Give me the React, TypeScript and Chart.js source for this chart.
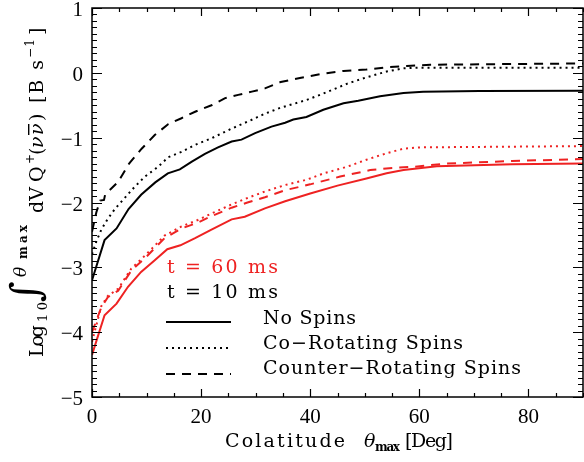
import React, { useEffect, useRef } from "react";
import { Chart, registerables } from "chart.js";

Chart.register(...registerables);

const RED = "#ee2222";
const BLACK = "#000000";

const xTickLabels = [0, 20, 40, 60, 80];
const yTickLabels = [-5, -4, -3, -2, -1, 0, 1];

// t = 10 ms, no spins
const noSpin10X = [0, 2.3, 4.5, 6.7, 9, 11.6, 13.9, 16.1, 18.3, 20.7, 23.1, 25.6, 27.4, 29.9, 32.9, 35.4, 36.9, 39.3, 42.4, 46.1, 48.8, 52.8, 57.1, 60.7, 71, 90];
const noSpin10Y = [-3.2, -2.58, -2.4, -2.1, -1.88, -1.69, -1.55, -1.49, -1.37, -1.25, -1.15, -1.06, -1.03, -0.93, -0.83, -0.77, -0.72, -0.68, -0.57, -0.47, -0.43, -0.36, -0.31, -0.29, -0.28, -0.275];

// t = 10 ms, co-rotating spins
const coRot10X = [0, 0.8, 1.7, 2.9, 4.2, 6, 7.8, 9.7, 12.1, 14, 16.4, 18.9, 21.9, 25.6, 28.6, 31.7, 34.5, 39.3, 42.4, 46.7, 50.3, 54, 57.1, 60, 90];
const coRot10Y = [-2.8, -2.6, -2.42, -2.25, -2.1, -1.93, -1.76, -1.6, -1.45, -1.3, -1.22, -1.11, -1.01, -0.86, -0.75, -0.63, -0.54, -0.42, -0.32, -0.17, -0.07, 0.02, 0.07, 0.08, 0.08];

// t = 10 ms, counter-rotating spins
const ctrRot10X = [0, 0.8, 1.5, 2.2, 2.4, 4.8, 6.8, 9.1, 11.5, 14, 16.4, 18.9, 21.9, 24.4, 26.8, 29.3, 31.7, 34.6, 38.1, 41.8, 46.1, 50.3, 54, 57.7, 62, 90];
const ctrRot10Y = [-2.45, -2.15, -1.97, -1.96, -1.88, -1.68, -1.4, -1.17, -0.96, -0.79, -0.7, -0.6, -0.5, -0.39, -0.34, -0.29, -0.24, -0.14, -0.08, -0.02, 0.03, 0.05, 0.085, 0.105, 0.125, 0.145];

// t = 60 ms, no spins
const noSpin60X = [0, 2.3, 4.5, 6.6, 9, 11.5, 13.8, 16.2, 18.9, 21.9, 25.6, 28, 31.7, 35.4, 40, 45, 50.3, 54, 57.1, 63.2, 77, 90];
const noSpin60Y = [-4.35, -3.74, -3.56, -3.3, -3.07, -2.89, -2.72, -2.66, -2.55, -2.42, -2.26, -2.22, -2.09, -1.98, -1.86, -1.74, -1.63, -1.55, -1.5, -1.44, -1.41, -1.4];

// t = 60 ms, co-rotating spins
const coRot60X = [0, 1.7, 2.9, 4.8, 7.2, 9.7, 13.3, 16.4, 19.4, 21.9, 25.6, 28.5, 31.7, 35.4, 39.3, 42.5, 46.7, 50.3, 54, 57.1, 60.1, 90];
const coRot60Y = [-4.15, -3.6, -3.44, -3.33, -3.02, -2.82, -2.51, -2.37, -2.27, -2.17, -2.03, -1.93, -1.83, -1.73, -1.65, -1.55, -1.45, -1.34, -1.24, -1.17, -1.15, -1.13];

// t = 60 ms, counter-rotating spins
const ctrRot60X = [0, 1.7, 2.9, 4.8, 7.2, 9.7, 13.3, 16.4, 19.4, 21.9, 25.6, 28.5, 31.7, 35.4, 40, 45.5, 51, 54.5, 58.9, 65, 77, 90];
const ctrRot60Y = [-4.0, -3.62, -3.46, -3.36, -3.05, -2.86, -2.55, -2.4, -2.31, -2.21, -2.08, -2.0, -1.92, -1.81, -1.72, -1.6, -1.5, -1.47, -1.45, -1.4, -1.36, -1.33];

const legendTimes = ["t = 60 ms", "t = 10 ms"];
const legendStyles = ["No Spins", "Co\u2212Rotating Spins", "Counter\u2212Rotating Spins"];

const DOT = [2, 4];
const DASH = [9, 7];

const pts = (xs: number[], ys: number[]) => xs.map((x, i) => ({ x, y: ys[i] }));

const SERIF = "'Liberation Serif', serif";
const WIDE = "'DejaVu Serif', serif";

function fitText(ctx: CanvasRenderingContext2D, text: string, x: number, y: number, width: number) {
  (ctx as any).letterSpacing = "0px";
  const w = ctx.measureText(text).width;
  const n = Array.from(text).length;
  const ls = n > 1 ? (width - w) / (n - 1) : 0;
  (ctx as any).letterSpacing = ls.toFixed(2) + "px";
  ctx.fillText(text, x, y);
  (ctx as any).letterSpacing = "0px";
}

const idlPlugin = {
  id: "idlFrame",
  afterDraw(chart: any) {
    const { ctx, chartArea: a, scales } = chart;
    const xs = scales.x;
    const ys = scales.y;
    ctx.save();
    ctx.strokeStyle = BLACK;
    ctx.setLineDash([]);
    ctx.lineWidth = 1.5;
    ctx.strokeRect(a.left, a.top, a.right - a.left, a.bottom - a.top);

    ctx.lineWidth = 1.2;
    ctx.beginPath();
    for (let i = -50; i <= 10; i++) {
      const y = Math.round(ys.getPixelForValue(i / 10)) + 0.5;
      const len = i % 10 === 0 ? 10 : 5;
      ctx.moveTo(a.left, y);
      ctx.lineTo(a.left + len, y);
      ctx.moveTo(a.right, y);
      ctx.lineTo(a.right - len, y);
    }
    for (let d = 0; d <= 90; d += 5) {
      const x = Math.round(xs.getPixelForValue(d)) + 0.5;
      const len = d % 20 === 0 ? 8 : 4;
      ctx.moveTo(x, a.bottom);
      ctx.lineTo(x, a.bottom - len);
      ctx.moveTo(x, a.top);
      ctx.lineTo(x, a.top + len);
    }
    ctx.stroke();

    // tick labels
    ctx.fillStyle = BLACK;
    ctx.font = "21px " + SERIF;
    ctx.textBaseline = "alphabetic";
    ctx.textAlign = "right";
    yTickLabels.forEach((v) => {
      const y = ys.getPixelForValue(v);
      const s = v < 0 ? "\u2212" + Math.abs(v) : String(v);
      ctx.fillText(s, a.left - 9, y + 8);
    });
    ctx.textAlign = "center";
    xTickLabels.forEach((v) => {
      const x = xs.getPixelForValue(v);
      ctx.fillText(String(v), x, a.bottom + 26);
    });

    // x axis title
    ctx.textAlign = "left";
    ctx.font = "19px " + WIDE;
    fitText(ctx, "Colatitude", 225, 447, 120);
    ctx.font = "italic 19px " + WIDE;
    ctx.fillText("\u03b8", 364, 447);
    ctx.font = "bold 12px " + WIDE;
    fitText(ctx, "max", 375, 451, 25);
    ctx.font = "19px " + WIDE;
    fitText(ctx, "[Deg]", 405, 447, 48);

    // y axis title (rotated)
    ctx.save();
    ctx.translate(43, 357);
    ctx.rotate(-Math.PI / 2);
    ctx.textAlign = "left";
    ctx.font = "19px " + WIDE;
    fitText(ctx, "Log", 0, 0, 32);
    ctx.font = "13px " + WIDE;
    fitText(ctx, "10", 35, 4, 20);
    ctx.font = "40px " + WIDE;
    ctx.fillText("\u222b", 55, -4);
    ctx.font = "italic 17px " + WIDE;
    ctx.fillText("\u03b8", 80, -17);
    ctx.font = "bold 12px " + WIDE;
    fitText(ctx, "max", 98, -16, 34);
    ctx.font = "19px " + WIDE;
    fitText(ctx, "dV", 144, 0, 26);
    ctx.fillText("Q", 175, 0);
    ctx.font = "12px " + WIDE;
    ctx.fillText("+", 193, -9);
    ctx.font = "19px " + WIDE;
    ctx.fillText("(", 202, 0);
    ctx.font = "italic 19px " + WIDE;
    ctx.fillText("\u03bd", 209, 0);
    ctx.fillText("\u03bd", 222, 0);
    ctx.fillRect(222, -15, 11, 1.4);
    ctx.font = "19px " + WIDE;
    ctx.fillText(")", 236, 0);
    fitText(ctx, "[B s", 254, 0, 43);
    ctx.font = "12px " + WIDE;
    fitText(ctx, "\u22121", 299, -9, 19);
    ctx.font = "19px " + WIDE;
    ctx.fillText("]", 322, 0);
    ctx.restore();

    // legend
    ctx.font = "19px " + WIDE;
    ctx.textAlign = "left";
    ctx.fillStyle = RED;
    fitText(ctx, legendTimes[0], 167, 273, 111);
    ctx.fillStyle = BLACK;
    fitText(ctx, legendTimes[1], 167, 298, 111);
    const lineYs = [322, 348, 374];
    const textYs = [324, 349, 374];
    const widths = [93, 200, 258];
    const dashes = [[], DOT, DASH];
    legendStyles.forEach((s, i) => {
      ctx.strokeStyle = BLACK;
      ctx.lineWidth = 2;
      ctx.setLineDash(dashes[i]);
      ctx.beginPath();
      ctx.moveTo(166, lineYs[i]);
      ctx.lineTo(231, lineYs[i]);
      ctx.stroke();
      fitText(ctx, s, 263, textYs[i], widths[i]);
    });
    ctx.setLineDash([]);
    ctx.restore();
  },
};

export default function App() {
  const ref = useRef<HTMLCanvasElement | null>(null);
  useEffect(() => {
    document.body.style.margin = "0";
    const canvas = ref.current;
    if (!canvas) return;
    const mk = (data: any, color: string, dash: number[]) => ({
      data,
      borderColor: color,
      backgroundColor: color,
      borderWidth: 2,
      borderDash: dash,
      pointRadius: 0,
      tension: 0,
      fill: false,
    });
    const chart = new Chart(canvas, {
      type: "line",
      data: {
        datasets: [
          mk(pts(noSpin60X, noSpin60Y), RED, []),
          mk(pts(coRot60X, coRot60Y), RED, DOT),
          mk(pts(ctrRot60X, ctrRot60Y), RED, DASH),
          mk(pts(noSpin10X, noSpin10Y), BLACK, []),
          mk(pts(coRot10X, coRot10Y), BLACK, DOT),
          mk(pts(ctrRot10X, ctrRot10Y), BLACK, DASH),
        ] as any,
      },
      options: {
        animation: false,
        responsive: false,
        devicePixelRatio: 1,
        layout: { padding: { left: 92, right: 1, top: 8, bottom: 65 } },
        scales: {
          x: { type: "linear", min: 0, max: 90, display: false },
          y: { type: "linear", min: -5, max: 1, display: false },
        },
        plugins: { legend: { display: false }, tooltip: { enabled: false } },
      },
      plugins: [idlPlugin],
    });
    return () => chart.destroy();
  }, []);
  return (
    <div style={{ width: 584, height: 462, background: "#fff" }}>
      <canvas ref={ref} width={584} height={462} style={{ display: "block" }} />
    </div>
  );
}
